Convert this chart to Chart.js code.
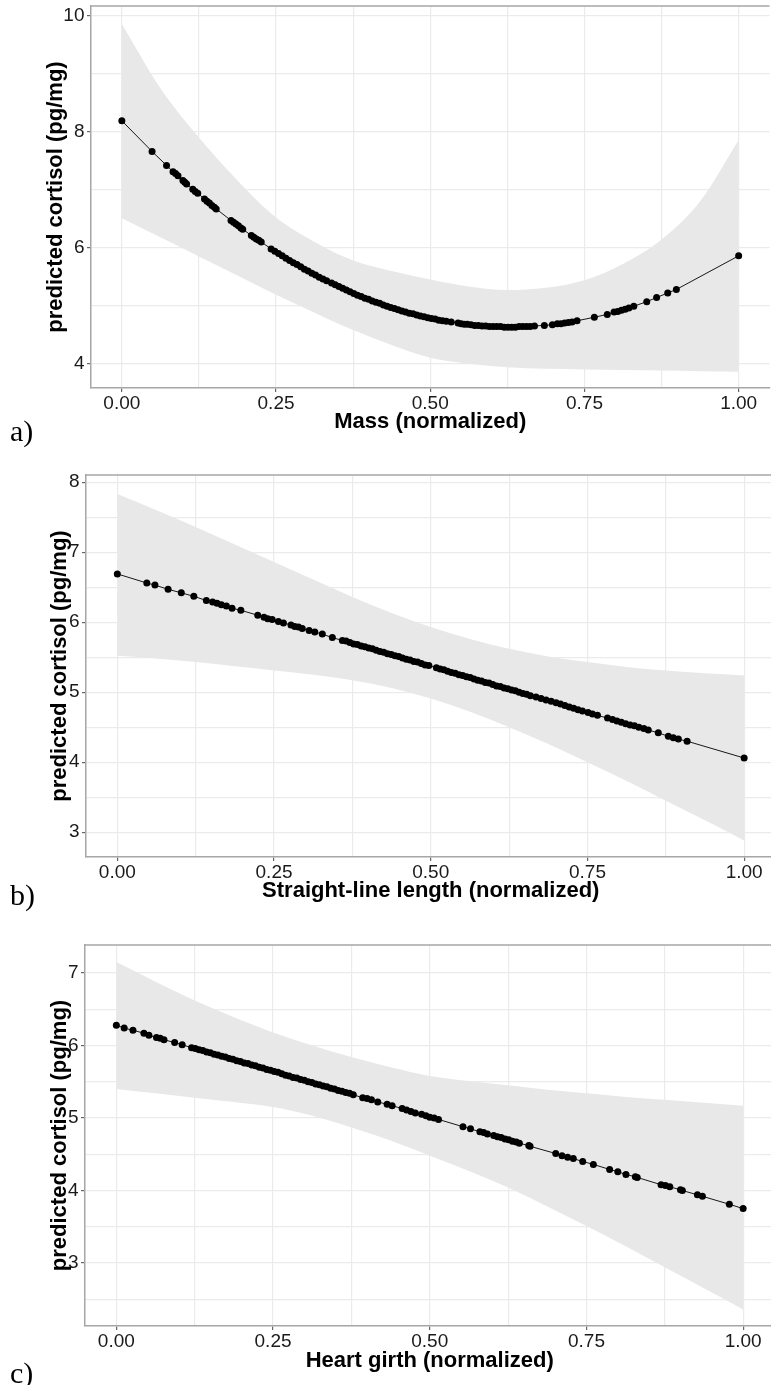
<!DOCTYPE html>
<html>
<head>
<meta charset="utf-8">
<script src="https://cdn.jsdelivr.net/npm/chart.js@4/dist/chart.umd.min.js"></script>
<style>
  html, body { margin:0; padding:0; background:#fff; overflow:hidden; }
  #wrap { position:relative; width:771px; height:1385px; overflow:hidden; background:#fff; }
  canvas { position:absolute; left:0; }
  .lab { position:absolute; left:10px; font-family:'Liberation Serif','Times New Roman',serif; font-size:30px; line-height:1; color:#000; }
</style>
</head>
<body>
<div id="wrap">
  <canvas id="cA" width="773" height="470" style="top:-20px;width:773px;height:470px"></canvas>
  <canvas id="cB" width="779" height="465" style="top:450px;width:779px;height:465px"></canvas>
  <canvas id="cC" width="778" height="470" style="top:915px;width:778px;height:470px"></canvas>
  <div class="lab" style="top:416px">a)</div>
  <div class="lab" style="top:880px">b)</div>
  <div class="lab" style="top:1358px">c)</div>
</div>
<script>
// ---------- data ----------
const xTickValues = [0, 0.125, 0.25, 0.375, 0.5, 0.625, 0.75, 0.875, 1];
const xTickLabels = ['0.00', '', '0.25', '', '0.50', '', '0.75', '', '1.00'];

const yTicksMass = [4, 5, 6, 7, 8, 9, 10];
const yLabelsMass = ['4', '', '6', '', '8', '', '10'];
const yTicksLength = [3, 3.5, 4, 4.5, 5, 5.5, 6, 6.5, 7, 7.5, 8];
const yLabelsLength = ['3', '', '4', '', '5', '', '6', '', '7', '', '8'];
const yTicksGirth = [2.5, 3, 3.5, 4, 4.5, 5, 5.5, 6, 6.5, 7];
const yLabelsGirth = ['', '3', '', '4', '', '5', '', '6', '', '7'];

const bandX = [0, 0.0625, 0.125, 0.1875, 0.25, 0.3125, 0.375, 0.4375, 0.5, 0.5625, 0.625, 0.6875, 0.75, 0.8125, 0.875, 0.9375, 1];

const massUpper = [9.86, 8.75, 7.90, 7.16, 6.52, 6.10, 5.78, 5.60, 5.45, 5.33, 5.27, 5.31, 5.44, 5.72, 6.14, 6.80, 7.86];
const massLower = [6.51, 6.18, 5.85, 5.52, 5.19, 4.88, 4.58, 4.32, 4.10, 4.00, 3.94, 3.91, 3.90, 3.89, 3.88, 3.87, 3.86];
const massX = [0,0.049,0.0725,0.083,0.087,0.091,0.099,0.102,0.105,0.115,0.119,0.123,0.134,0.138,0.142,0.146,0.150,0.153,0.177,0.181,0.185,0.189,0.193,0.196,0.210,0.214,0.218,0.222,0.226,0.242,0.248,0.254,0.260,0.266,0.272,0.278,0.284,0.290,0.296,0.302,0.308,0.314,0.320,0.326,0.332,0.340,0.346,0.352,0.358,0.364,0.370,0.376,0.382,0.388,0.394,0.400,0.406,0.412,0.418,0.424,0.430,0.436,0.442,0.448,0.454,0.460,0.466,0.472,0.478,0.484,0.490,0.496,0.502,0.508,0.514,0.520,0.526,0.534,0.545,0.550,0.555,0.560,0.566,0.572,0.578,0.584,0.590,0.596,0.602,0.608,0.614,0.620,0.626,0.632,0.638,0.644,0.650,0.656,0.662,0.669,0.685,0.698,0.706,0.712,0.718,0.724,0.730,0.738,0.766,0.787,0.798,0.804,0.810,0.816,0.822,0.830,0.851,0.867,0.885,0.899,1.0];
const massY = [8.19,7.66,7.42,7.31,7.28,7.24,7.16,7.13,7.10,7.01,6.97,6.94,6.84,6.80,6.77,6.73,6.70,6.67,6.47,6.44,6.41,6.38,6.34,6.32,6.21,6.18,6.15,6.13,6.10,5.98,5.94,5.90,5.86,5.82,5.78,5.74,5.71,5.67,5.63,5.60,5.56,5.53,5.49,5.46,5.43,5.39,5.36,5.33,5.30,5.27,5.24,5.21,5.18,5.16,5.13,5.11,5.08,5.06,5.04,5.01,4.99,4.97,4.95,4.93,4.91,4.89,4.87,4.86,4.84,4.82,4.81,4.79,4.78,4.77,4.75,4.74,4.73,4.72,4.70,4.69,4.68,4.68,4.67,4.66,4.66,4.65,4.65,4.64,4.64,4.64,4.64,4.63,4.63,4.63,4.63,4.64,4.64,4.64,4.64,4.65,4.66,4.67,4.69,4.69,4.70,4.71,4.72,4.74,4.80,4.85,4.89,4.90,4.92,4.94,4.96,4.99,5.07,5.14,5.22,5.28,5.86];

const lengthUpper = [7.83, 7.60, 7.36, 7.11, 6.86, 6.61, 6.36, 6.13, 5.93, 5.76, 5.62, 5.51, 5.43, 5.36, 5.31, 5.27, 5.24];
const lengthLower = [5.52, 5.48, 5.43, 5.37, 5.31, 5.25, 5.17, 5.06, 4.91, 4.72, 4.50, 4.26, 4.00, 3.73, 3.45, 3.17, 2.88];
const lengthX = [0,0.047,0.060,0.081,0.102,0.122,0.142,0.152,0.159,0.166,0.174,0.183,0.197,0.224,0.234,0.240,0.247,0.257,0.265,0.277,0.283,0.289,0.295,0.306,0.315,0.327,0.343,0.359,0.365,0.371,0.377,0.383,0.389,0.395,0.401,0.407,0.413,0.419,0.425,0.431,0.437,0.443,0.449,0.455,0.461,0.467,0.473,0.479,0.485,0.491,0.497,0.509,0.515,0.521,0.527,0.533,0.539,0.545,0.551,0.557,0.563,0.569,0.575,0.581,0.587,0.593,0.599,0.605,0.611,0.617,0.623,0.629,0.635,0.641,0.647,0.653,0.659,0.668,0.676,0.684,0.692,0.700,0.707,0.714,0.721,0.728,0.735,0.742,0.751,0.758,0.766,0.782,0.790,0.797,0.804,0.811,0.818,0.825,0.832,0.840,0.847,0.863,0.879,0.887,0.895,0.909,1.0];
const lengthY = [6.69,6.56,6.53,6.47,6.42,6.37,6.31,6.29,6.27,6.25,6.23,6.20,6.17,6.10,6.07,6.05,6.04,6.01,5.99,5.96,5.94,5.93,5.91,5.88,5.86,5.83,5.78,5.74,5.73,5.71,5.69,5.68,5.66,5.65,5.63,5.62,5.60,5.58,5.57,5.55,5.54,5.52,5.51,5.49,5.47,5.46,5.44,5.43,5.41,5.39,5.38,5.35,5.33,5.32,5.30,5.28,5.27,5.25,5.24,5.22,5.21,5.19,5.17,5.16,5.14,5.13,5.11,5.09,5.08,5.06,5.05,5.03,5.02,5.00,4.98,4.97,4.95,4.93,4.91,4.89,4.87,4.85,4.83,4.81,4.79,4.77,4.75,4.73,4.71,4.69,4.67,4.63,4.61,4.59,4.57,4.55,4.53,4.52,4.50,4.48,4.46,4.42,4.37,4.35,4.33,4.30,4.06];

const girthUpper = [7.15, 6.88, 6.62, 6.39, 6.18, 6.00, 5.84, 5.70, 5.58, 5.51, 5.45, 5.39, 5.34, 5.29, 5.25, 5.21, 5.17];
const girthLower = [5.40, 5.34, 5.28, 5.22, 5.15, 5.03, 4.87, 4.69, 4.48, 4.27, 4.04, 3.78, 3.51, 3.23, 2.94, 2.65, 2.36];
const girthX = [0,0.0125,0.0265,0.044,0.052,0.064,0.070,0.076,0.093,0.105,0.120,0.126,0.132,0.138,0.144,0.150,0.156,0.162,0.168,0.174,0.180,0.186,0.192,0.198,0.204,0.210,0.216,0.222,0.228,0.234,0.240,0.246,0.252,0.258,0.264,0.270,0.276,0.282,0.288,0.294,0.300,0.306,0.312,0.318,0.324,0.330,0.336,0.342,0.348,0.354,0.360,0.366,0.372,0.378,0.393,0.400,0.407,0.417,0.432,0.440,0.456,0.463,0.470,0.477,0.487,0.494,0.500,0.507,0.514,0.553,0.565,0.580,0.586,0.592,0.602,0.608,0.614,0.620,0.626,0.632,0.638,0.643,0.658,0.660,0.701,0.711,0.720,0.729,0.744,0.761,0.787,0.800,0.813,0.828,0.831,0.869,0.876,0.883,0.900,0.903,0.927,0.935,0.978,1.0];
const girthY = [6.28,6.24,6.21,6.17,6.14,6.11,6.10,6.08,6.04,6.01,5.97,5.96,5.94,5.93,5.91,5.90,5.88,5.87,5.85,5.84,5.82,5.81,5.79,5.78,5.76,5.75,5.73,5.72,5.70,5.69,5.67,5.66,5.64,5.63,5.61,5.59,5.58,5.56,5.55,5.53,5.52,5.50,5.49,5.47,5.46,5.44,5.43,5.41,5.40,5.38,5.37,5.35,5.34,5.32,5.28,5.27,5.25,5.22,5.19,5.17,5.13,5.11,5.09,5.07,5.05,5.03,5.01,5.00,4.98,4.88,4.85,4.81,4.80,4.78,4.76,4.74,4.73,4.71,4.70,4.68,4.67,4.65,4.62,4.61,4.51,4.48,4.46,4.44,4.40,4.36,4.29,4.26,4.22,4.19,4.18,4.08,4.07,4.05,4.01,4.00,3.94,3.92,3.81,3.75];

// ---------- rendering ----------
Chart.defaults.font.family = "'Liberation Sans', Arial, sans-serif";
Chart.defaults.color = '#1a1a1a';

const topBorder = {
  id: 'topBorder',
  afterDraw(chart) {
    const { ctx, chartArea } = chart;
    ctx.save();
    ctx.strokeStyle = '#a6a6a6';
    ctx.lineWidth = 1.5;
    ctx.beginPath();
    ctx.moveTo(chartArea.left, chartArea.top);
    ctx.lineTo(chartArea.right, chartArea.top);
    ctx.stroke();
    ctx.restore();
  }
};

function pts(xs, ys) { return xs.map((x, i) => ({ x: x, y: ys[i] })); }

function makePanel(id, o) {
  new Chart(document.getElementById(id), {
    type: 'scatter',
    data: {
      datasets: [
        { data: pts(o.xs, o.ys), showLine: true, borderColor: '#000', borderWidth: 0.9,
          pointRadius: 3.5, pointBackgroundColor: '#000', pointBorderWidth: 0, pointHoverRadius: 3.5 },
        { data: pts(bandX, o.up), showLine: true, pointRadius: 0, borderWidth: 0,
          borderColor: 'rgba(0,0,0,0)', backgroundColor: '#e8e8e8', fill: '+1', cubicInterpolationMode: 'monotone' },
        { data: pts(bandX, o.lo), showLine: true, pointRadius: 0, borderWidth: 0,
          borderColor: 'rgba(0,0,0,0)', fill: false, cubicInterpolationMode: 'monotone' }
      ]
    },
    options: {
      responsive: false, animation: false, devicePixelRatio: 1,
      layout: { padding: { top: o.padTop, left: 0, right: 0, bottom: 0 } },
      plugins: { legend: { display: false }, tooltip: { enabled: false } },
      scales: {
        x: {
          type: 'linear', min: -0.05, max: 1.05,
          afterBuildTicks: s => { s.ticks = xTickValues.map(v => ({ value: v })); },
          afterFit: s => { s.height = o.xAxisH; },
          ticks: { autoSkip: false, maxRotation: 0, padding: 0, color: '#1a1a1a',
                   font: { size: 19 }, callback: (v, i) => xTickLabels[i] },
          grid: { color: '#ebebeb', lineWidth: 1.2, tickLength: 4, tickWidth: 1.2,
                  tickColor: c => (c.index !== undefined && xTickLabels[c.index] !== '') ? '#666' : 'rgba(0,0,0,0)' },
          border: { display: true, color: '#a6a6a6', width: 1.5 },
          title: { display: true, text: o.xTitle, color: '#000',
                   font: { size: 22, weight: 'bold' }, padding: { top: 0, bottom: o.xTitlePad } }
        },
        y: {
          type: 'linear', min: o.yMin, max: o.yMax,
          afterBuildTicks: s => { s.ticks = o.yTicks.map(v => ({ value: v })); },
          afterFit: s => { s.width = o.yAxisW; },
          ticks: { autoSkip: false, padding: 2.5, color: '#1a1a1a',
                   font: { size: 19 }, callback: (v, i) => o.yLabels[i] },
          grid: { color: '#ebebeb', lineWidth: 1.2, tickLength: 4, tickWidth: 1.2,
                  tickColor: c => (c.index !== undefined && o.yLabels[c.index] !== '') ? '#666' : 'rgba(0,0,0,0)' },
          border: { display: true, color: '#a6a6a6', width: 1.5 },
          title: { display: true, text: 'predicted cortisol (pg/mg)', color: '#000',
                   font: { size: 22, weight: 'bold' }, padding: { top: o.yTitlePad, bottom: 0 } }
        }
      }
    },
    plugins: [topBorder]
  });
}

makePanel('cA', { xs: massX, ys: massY, up: massUpper, lo: massLower,
  yMin: 3.58, yMax: 10.17, yTicks: yTicksMass, yLabels: yLabelsMass,
  padTop: 26, xAxisH: 62, yAxisW: 91, xTitlePad: 14.8, yTitlePad: 42.8,
  xTitle: 'Mass (normalized)' });

makePanel('cB', { xs: lengthX, ys: lengthY, up: lengthUpper, lo: lengthLower,
  yMin: 2.646, yMax: 8.103, yTicks: yTicksLength, yLabels: yLabelsLength,
  padTop: 25, xAxisH: 58, yAxisW: 86, xTitlePad: 10.8, yTitlePad: 46.8,
  xTitle: 'Straight-line length (normalized)' });

makePanel('cC', { xs: girthX, ys: girthY, up: girthUpper, lo: girthLower,
  yMin: 2.131, yMax: 7.386, yTicks: yTicksGirth, yLabels: yLabelsGirth,
  padTop: 30, xAxisH: 59, yAxisW: 85, xTitlePad: 10.8, yTitlePad: 46.8,
  xTitle: 'Heart girth (normalized)' });
</script>
</body>
</html>
